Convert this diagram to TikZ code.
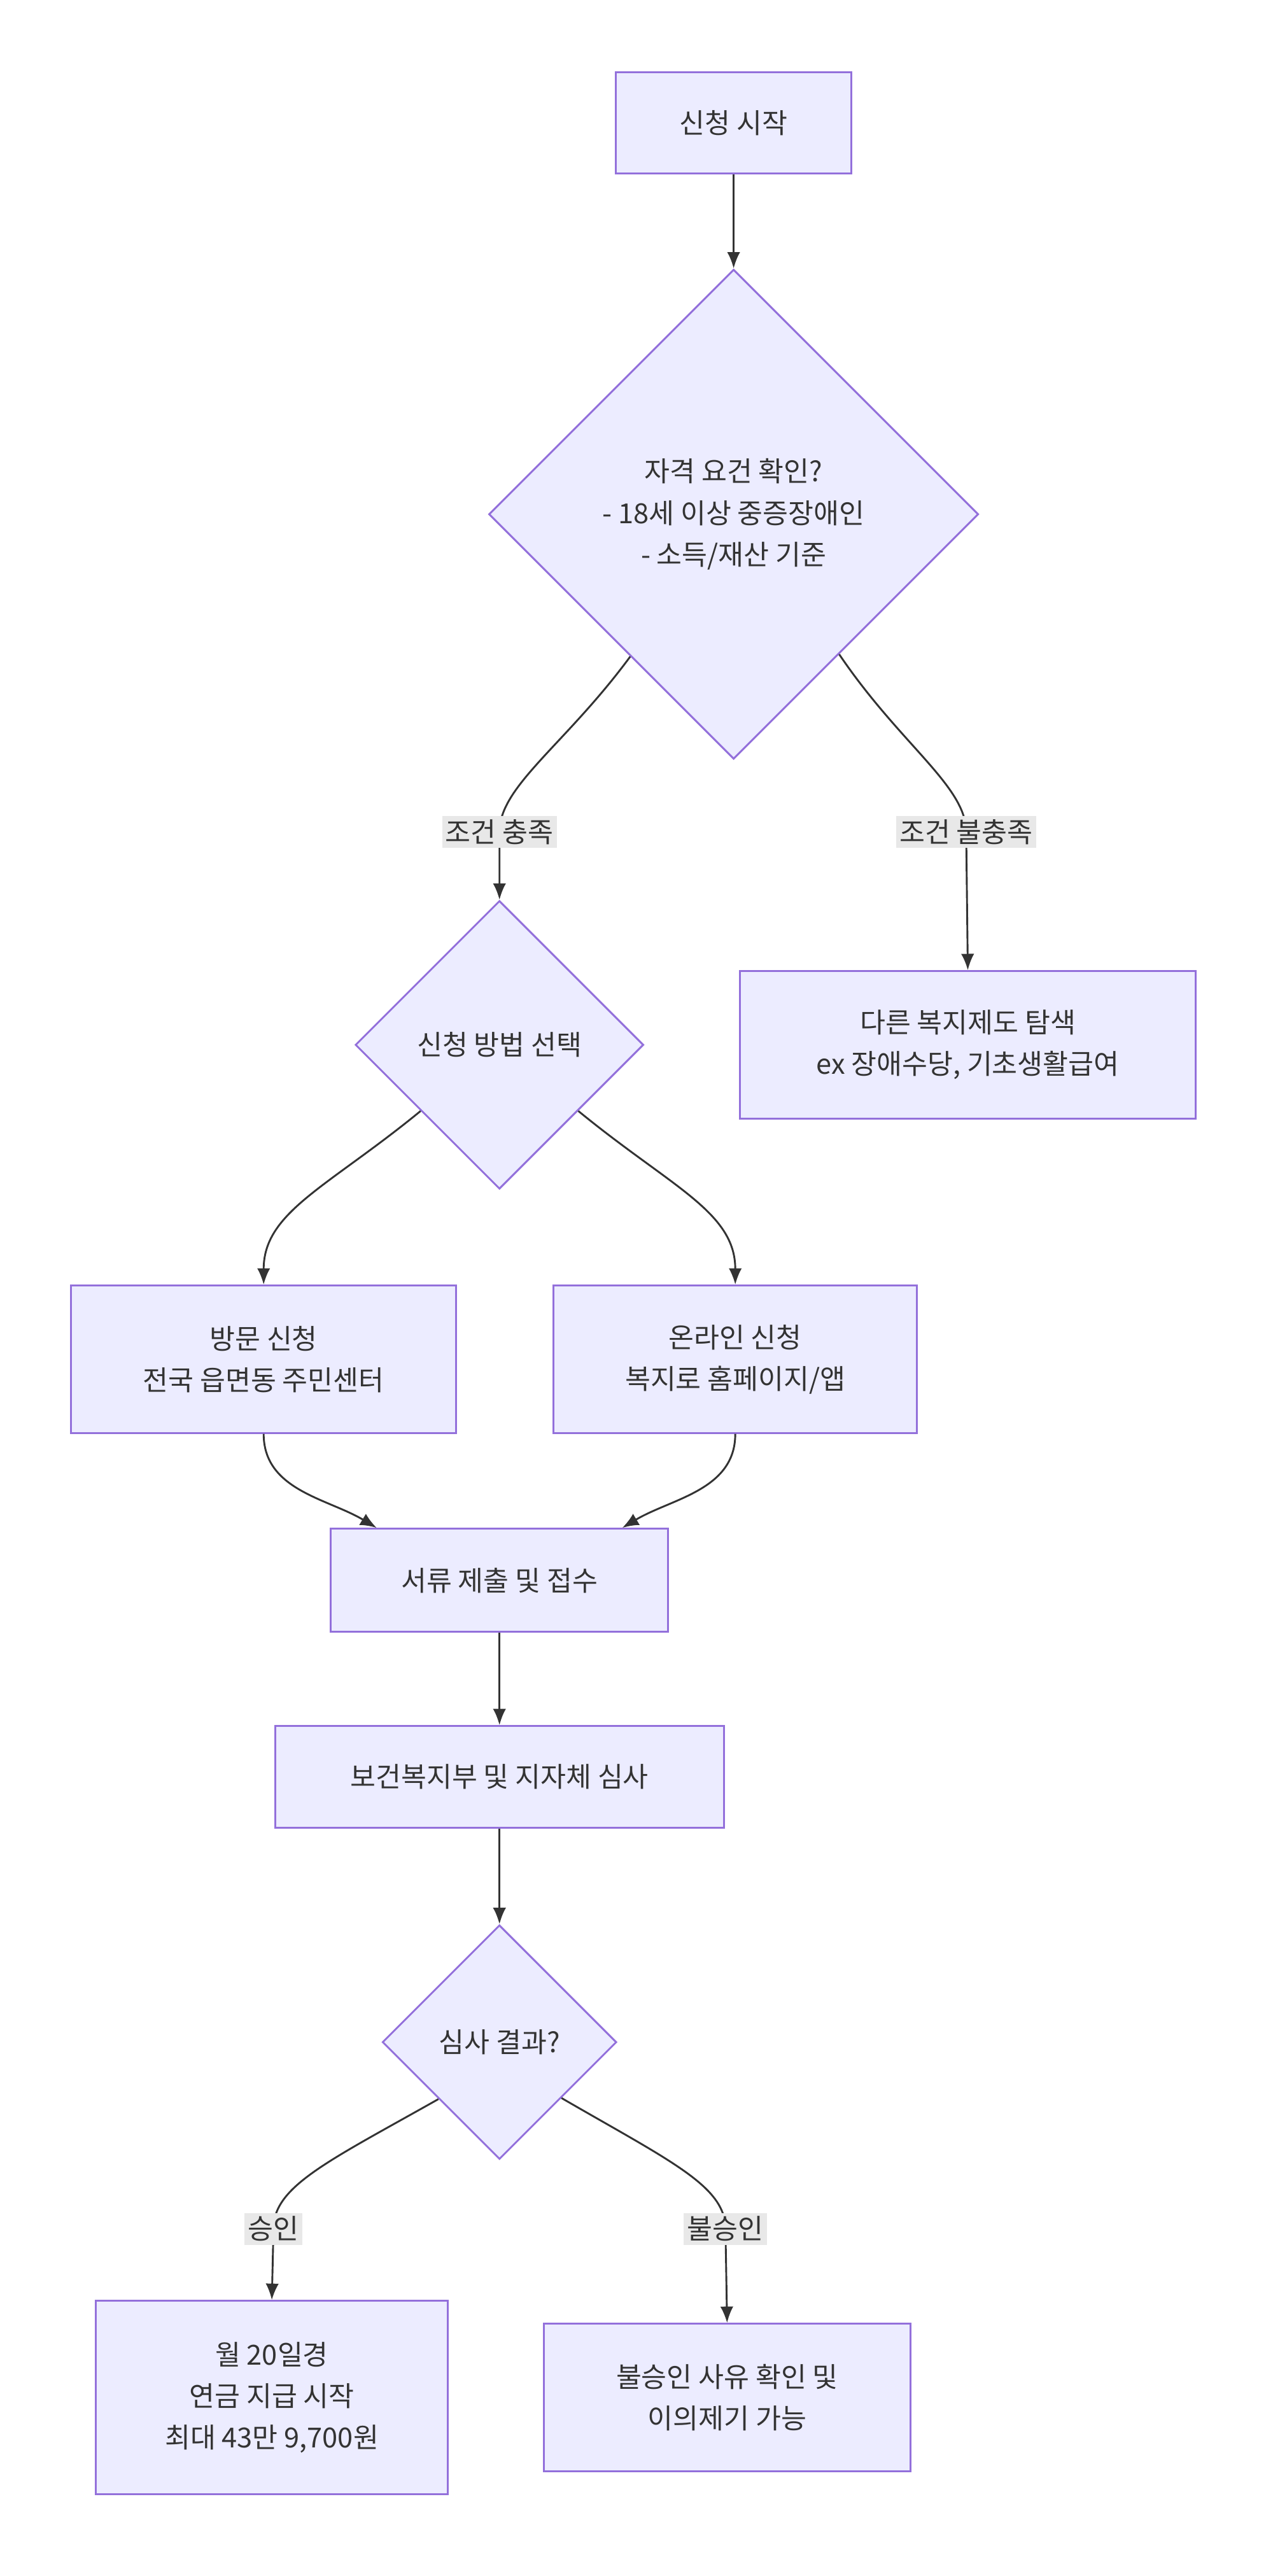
\documentclass[tikz,border=0pt]{standalone}
\usepackage{fontspec}
\setmainfont{Noto Sans CJK KR}
\usepackage{tikz}
\usetikzlibrary{shapes.geometric,arrows.meta}
\definecolor{boxfill}{HTML}{ECECFF}
\definecolor{boxline}{HTML}{9370DB}
\definecolor{txt}{HTML}{333333}
\definecolor{lblbg}{HTML}{E8E8E8}
\begin{document}
\begin{tikzpicture}
[x=0.05cm,y=-0.05cm,
mybox/.style={rectangle,align=center,draw=boxline,fill=boxfill,line width=1.6pt,text=txt,font=\fontsize{24}{36}\selectfont,inner sep=0pt},
dia/.style={mybox,diamond,aspect=1},
lbl/.style={fill=lblbg,text=txt,font=\fontsize{24}{28}\selectfont,inner sep=3pt},
arr/.style={-{Latex[length=0.5cm,width=0.4cm]},line width=1.6pt,draw=txt},
]
\useasboundingbox[fill=white] (0,0) rectangle (777,1573);

\node [mybox,minimum width=7.2cm,minimum height=3.1cm] (start) at (448,75){신청 시작};
\node [dia,minimum size=14.95cm] (elig) at (448,314){자격 요건 확인?\\- 18세 이상 중증장애인\\- 소득/재산 기준};
\node [dia,minimum size=8.8cm] (method) at (305,638){신청 방법 선택};
\node [mybox,minimum width=13.9cm,minimum height=4.5cm] (other) at (591,638){다른 복지제도 탐색\\ex 장애수당, 기초생활급여};
\node [mybox,minimum width=11.75cm,minimum height=4.5cm] (visit) at (161,830){방문 신청\\전국 읍면동 주민센터};
\node [mybox,minimum width=11.1cm,minimum height=4.5cm] (online) at (449,830){온라인 신청\\복지로 홈페이지/앱};
\node [mybox,minimum width=10.3cm,minimum height=3.15cm] (docs) at (305,965){서류 제출 및 접수};
\node [mybox,minimum width=13.7cm,minimum height=3.1cm] (review) at (305,1085){보건복지부 및 지자체 심사};
\node [dia,minimum size=7.15cm] (result) at (305,1247){심사 결과?};
\node [mybox,minimum width=10.75cm,minimum height=5.9cm] (pay) at (166,1464){월 20일경\\연금 지급 시작\\최대 43만 9,700원};
\node [mybox,minimum width=11.2cm,minimum height=4.5cm] (deny) at (444,1464){불승인 사유 확인 및\\이의제기 가능};

\draw[arr] (start) -- (elig);
\draw[arr] (elig.234) .. controls (345,455) and (305,480) .. (305,508) node[lbl]{조건 충족} -- (method.north);
\draw[arr] (elig.307) .. controls (550,455) and (590,480) .. (590,508) node[lbl]{조건 불충족} -- (other.north);
\draw[arr] (method.220) .. controls (200,725) and (161,740) .. (visit.north);
\draw[arr] (method.320) .. controls (410,725) and (449,740) .. (online.north);
\draw[arr] (visit.south) .. controls (161,910) and (200,915) .. ([xshift=-3.75cm]docs.north);
\draw[arr] (online.south) .. controls (449,910) and (410,915) .. ([xshift=3.75cm]docs.north);
\draw[arr] (docs) -- (review);
\draw[arr] (review) -- (result);
\draw[arr] (result.223) .. controls (200,1320) and (167,1335) .. (167,1361) node[lbl]{승인} -- (pay.north);
\draw[arr] (result.318) .. controls (410,1320) and (443,1335) .. (443,1361) node[lbl]{불승인} -- (deny.north);
\end{tikzpicture}
\end{document}
